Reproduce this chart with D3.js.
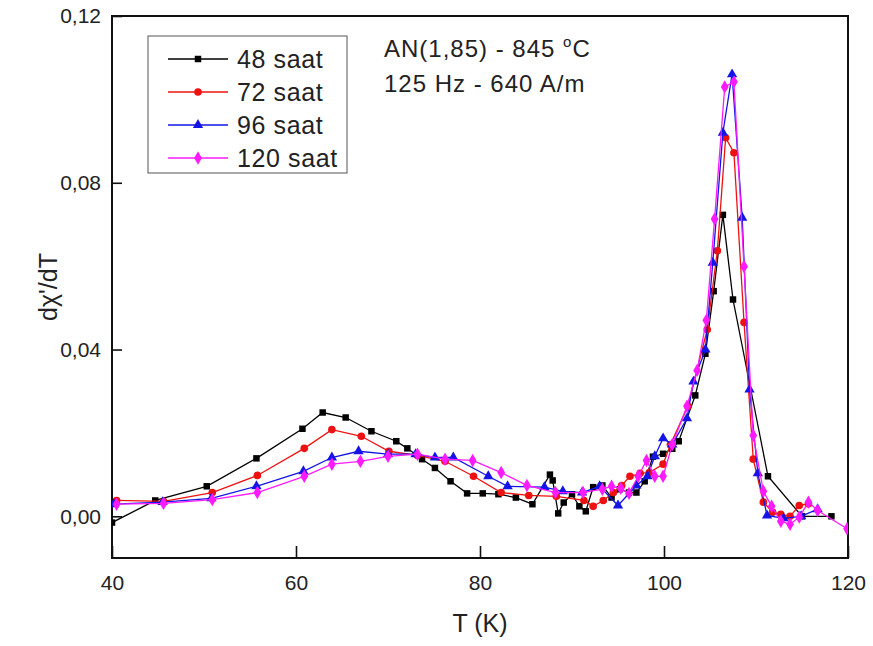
<!DOCTYPE html>
<html>
<head>
<meta charset="utf-8">
<script src="https://cdn.jsdelivr.net/npm/d3@7"></script>
<style>
  body { margin: 0; background: #fff; }
  svg text { font-family: "Liberation Sans", Arial, sans-serif; fill: #222; }
</style>
</head>
<body>
<svg id="chart" width="873" height="646"></svg>
<script>
"use strict";

/* Series data: T (K) and dχ'/dT */
const t48 = [40, 44.7, 50.3, 55.7, 60.7, 62.9, 65.4, 68.2, 70.9, 72.1, 73.7, 75.1, 76.8, 78.6, 80.3, 82.0, 83.9, 85.7, 87.6, 87.9, 88.5, 89.1, 90.0, 90.8, 91.5, 92.3, 93.3, 94.3, 95.2, 96.2, 97.0, 97.9, 98.8, 99.9, 100.9, 101.6, 103.4, 104.5, 105.4, 106.4, 107.5, 111.3, 115.0, 118.2];
const v48 = [-0.0015, 0.0038, 0.0072, 0.0139, 0.021, 0.0249, 0.0237, 0.0204, 0.018, 0.0163, 0.0137, 0.0116, 0.0084, 0.0055, 0.0055, 0.0053, 0.0045, 0.0029, 0.010, 0.0086, 0.0007, 0.0033, 0.0053, 0.0024, 0.0012, 0.007, 0.0074, 0.0045, 0.0065, 0.0057, 0.0057, 0.0084, 0.0143, 0.015, 0.0162, 0.018, 0.029, 0.039, 0.054, 0.0723, 0.052, 0.0096, 0.0, 0.0];

const t72 = [40.5, 45.6, 50.9, 55.8, 60.9, 63.9, 67.1, 70.1, 73.2, 76.2, 79.3, 82.3, 85.3, 88.3, 91.3, 92.3, 93.4, 94.5, 95.4, 96.3, 97.4, 98.4, 99.9, 100.7, 102.6, 104.7, 105.8, 106.7, 107.6, 108.7, 109.7, 110.8, 111.8, 112.7, 113.7, 114.7, 115.7];
const v72 = [0.0038, 0.0036, 0.0057, 0.0098, 0.0163, 0.0208, 0.0192, 0.0156, 0.0146, 0.0132, 0.0096, 0.0057, 0.005, 0.0048, 0.0038, 0.0024, 0.0038, 0.0057, 0.0074, 0.0096, 0.0103, 0.0105, 0.0125, 0.0172, 0.0264, 0.0448, 0.0637, 0.0908, 0.0872, 0.0465, 0.0137, 0.0034, 0.001, 0.0005, 0.0, 0.0026, 0.003];

const t96 = [40.2, 45.5, 50.8, 55.7, 60.8, 63.9, 66.8, 70.0, 73.0, 75.1, 77.1, 80.9, 83.0, 87.0, 89.0, 91.1, 93.0, 95.0, 97.0, 98.2, 99.0, 99.9, 100.9, 102.5, 103.2, 104.5, 105.3, 106.4, 107.4, 108.5, 109.3, 110.2, 111.2, 113.0, 114.9, 116.7];
const v96 = [0.0029, 0.0034, 0.0043, 0.0072, 0.0108, 0.0141, 0.0156, 0.0149, 0.0149, 0.0141, 0.0141, 0.0096, 0.0072, 0.007, 0.006, 0.0057, 0.0072, 0.0026, 0.0074, 0.0096, 0.0144, 0.0187, 0.0172, 0.0235, 0.0323, 0.040, 0.0608, 0.092, 0.106, 0.0716, 0.0304, 0.0103, 0.0002, -0.0005, 0.0, 0.0017];

const t120 = [40.5, 45.6, 50.9, 55.8, 60.9, 63.9, 67.0, 70.0, 73.2, 76.2, 79.2, 82.3, 85.1, 88.2, 91.2, 93.3, 94.3, 95.3, 96.2, 97.2, 98.1, 99.0, 99.9, 100.9, 102.5, 103.6, 104.6, 105.5, 106.6, 107.6, 108.7, 109.7, 110.8, 111.7, 112.7, 113.7, 114.7, 115.7, 116.7, 119.9];
const v120 = [0.0029, 0.0031, 0.004, 0.0057, 0.0096, 0.0125, 0.0132, 0.0144, 0.0149, 0.0137, 0.0134, 0.0105, 0.0074, 0.0057, 0.0057, 0.0065, 0.0072, 0.0067, 0.0055, 0.0096, 0.0134, 0.0096, 0.0096, 0.0172, 0.0264, 0.035, 0.047, 0.0713, 0.103, 0.1042, 0.0599, 0.0194, 0.006, 0.0024, -0.0012, -0.0019, -0.0002, 0.0034, 0.0014, -0.003];

const seriesNames = ["48 saat", "72 saat", "96 saat", "120 saat"];
const seriesColors = ["#000000", "#ee1111", "#1414e6", "#ff1aff"];
const seriesSymbols = [d3.symbolSquare, d3.symbolCircle, d3.symbolTriangle, d3.symbolDiamond];
const symbolSizes = [42, 46, 46, 52];

const xMajor = [40, 60, 80, 100, 120];
const xMinor = [50, 70, 90, 110];
const yMajor = [0, 0.04, 0.08, 0.12];
const yMinor = [0.02, 0.06, 0.10];

const series = [[t48, v48], [t72, v72], [t96, v96], [t120, v120]].map(function(s, k) {
  return { name: seriesNames[k], color: seriesColors[k], symbol: seriesSymbols[k], size: symbolSizes[k],
           points: s[0].map(function(t, i) { return { t: t, v: s[1][i] }; }) };
});

const margin = { left: 112, right: 25, top: 16, bottom: 88 };
const width = 873, height = 646;
const svg = d3.select("#chart");

const x = d3.scaleLinear().domain([40, 120]).range([margin.left, width - margin.right]);
const y = d3.scaleLinear().domain([-0.01, 0.12]).range([height - margin.bottom, margin.top]);

const fmt = function(d) { return d3.format(".2f")(d).replace(".", ","); };

/* Clip for the data */
svg.append("clipPath").attr("id", "plotClip")
  .append("rect")
    .attr("x", x(40)).attr("y", y(0.12))
    .attr("width", x(120) - x(40)).attr("height", y(-0.01) - y(0.12));

/* Axes with inward ticks */
const xAxisG = svg.append("g").attr("transform", "translate(0," + y(-0.01) + ")");
xAxisG.call(d3.axisBottom(x).tickValues(xMinor).tickSize(-8).tickFormat(""));
xAxisG.call(d3.axisBottom(x).tickValues(xMajor).tickSize(-12).tickPadding(17).tickFormat(d3.format("d")));

const yAxisG = svg.append("g").attr("transform", "translate(" + x(40) + ",0)");
yAxisG.call(d3.axisLeft(y).tickValues(yMinor).tickSize(-6).tickFormat(""));
yAxisG.call(d3.axisLeft(y).tickValues(yMajor).tickSize(-10).tickPadding(11).tickFormat(fmt));

svg.selectAll(".domain").remove();
svg.selectAll(".tick line").attr("stroke", "#111").attr("stroke-width", 1.6);
svg.selectAll(".tick text").attr("font-size", 21).style("font-family", "Liberation Sans, Arial, sans-serif").attr("fill", "#222");

/* Frame */
svg.append("rect")
    .attr("x", x(40)).attr("y", y(0.12))
    .attr("width", x(120) - x(40)).attr("height", y(-0.01) - y(0.12))
    .attr("fill", "none").attr("stroke", "#111").attr("stroke-width", 2);

/* Axis titles */
svg.append("text")
    .attr("x", (x(40) + x(120)) / 2).attr("y", 632)
    .attr("text-anchor", "middle").attr("font-size", 25)
    .text("T (K)");

svg.append("text")
    .attr("transform", "translate(57," + ((y(0.12) + y(-0.01)) / 2) + ") rotate(-90)")
    .attr("text-anchor", "middle").attr("font-size", 25)
    .text("dχ'/dT");

/* Series lines and markers */
const line = d3.line().x(function(d) { return x(d.t); }).y(function(d) { return y(d.v); });
const plot = svg.append("g").attr("clip-path", "url(#plotClip)");

series.forEach(function(s) {
  const g = plot.append("g");
  g.append("path")
      .datum(s.points)
      .attr("d", line)
      .attr("fill", "none")
      .attr("stroke", s.color)
      .attr("stroke-width", 1.3);
  g.selectAll("path.marker")
      .data(s.points)
      .enter().append("path")
      .attr("class", "marker")
      .attr("transform", function(d) { return "translate(" + x(d.t) + "," + y(d.v) + ")"; })
      .attr("d", d3.symbol().type(s.symbol).size(s.size))
      .attr("fill", s.color);
});

/* Legend */
const legend = svg.append("g");
legend.append("rect")
    .attr("x", 148).attr("y", 36).attr("width", 199).attr("height", 137)
    .attr("fill", "#fff").attr("stroke", "#555").attr("stroke-width", 1);

series.forEach(function(s, i) {
  const ly = 59 + i * 33;
  legend.append("line")
      .attr("x1", 168).attr("x2", 228).attr("y1", ly).attr("y2", ly)
      .attr("stroke", s.color).attr("stroke-width", 1.3);
  legend.append("path")
      .attr("transform", "translate(198," + ly + ")")
      .attr("d", d3.symbol().type(s.symbol).size(s.size))
      .attr("fill", s.color);
  legend.append("text")
      .attr("x", 237).attr("y", ly + 9)
      .attr("font-size", 25)
      .attr("letter-spacing", 0.6)
      .text(s.name);
});

/* Annotation */
const note = svg.append("text").attr("x", 384).attr("y", 57).attr("font-size", 24).attr("letter-spacing", 1);
note.append("tspan").text("AN(1,85) - 845 ");
note.append("tspan").attr("dy", -10).attr("font-size", 15).text("o");
note.append("tspan").attr("dy", 10).text("C");

svg.append("text").attr("x", 384).attr("y", 92).attr("font-size", 24).attr("letter-spacing", 1)
    .text("125 Hz - 640 A/m");
</script>
</body>
</html>
